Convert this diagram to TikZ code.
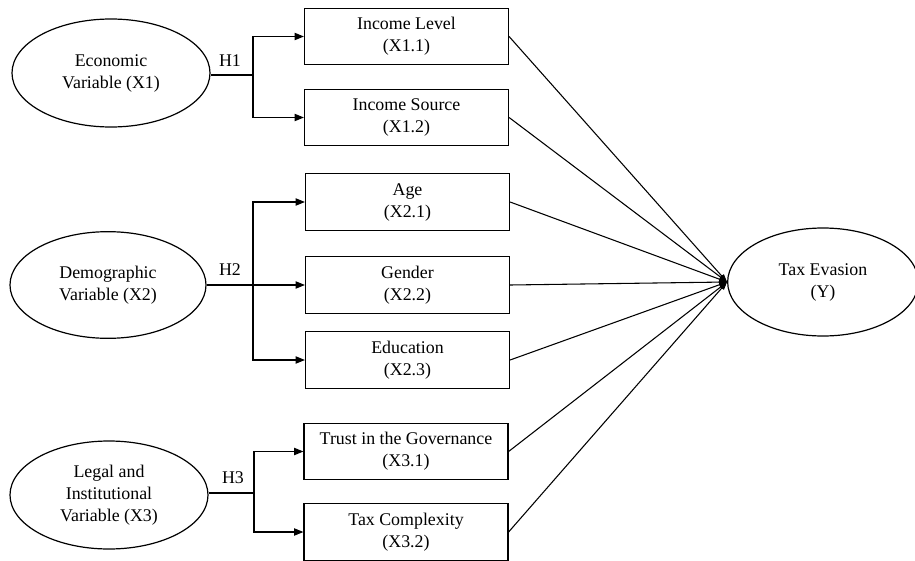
\documentclass[tikz,border=0pt]{standalone}
\usepackage{fontspec}
\setmainfont{Liberation Serif}
\usetikzlibrary{shapes.geometric,arrows.meta}
\begin{document}
\begin{tikzpicture}[x=0.75pt,y=-0.75pt,
  every node/.style={font=\fontsize{13.4}{16.5}\selectfont, align=center},
  varbox/.style={draw, line width=0.9pt, minimum width=153pt, minimum height=42.5pt, inner sep=0pt},
  latent/.style={draw, ellipse, line width=0.9pt, inner sep=0pt},
  link/.style={line width=0.8pt},
  arr/.style={line width=0.8pt, -{Triangle[length=7pt,width=5.5pt]}},
  conv/.style={line width=0.8pt, -{Triangle[length=6pt,width=4pt]}},
  hlab/.style={inner sep=1pt}
]
\useasboundingbox (0,0) rectangle (915,561);

% latent variables
\node[latent, minimum width=148.5pt, minimum height=81pt] (e1) at (111,73) {Economic\\Variable (X1)};
\node[latent, minimum width=147pt, minimum height=80pt] (e2) at (108,285) {Demographic\\Variable (X2)};
\node[latent, minimum width=148.5pt, minimum height=81pt] (e3) at (109,495) {Legal and\\Institutional\\Variable (X3)};
\node[latent, minimum width=143pt, minimum height=81pt] (y) at (823,282) {Tax Evasion\\(Y)};

% indicator boxes
\node[varbox] (il) at (406.5,36.5) {Income Level\\(X1.1)};
\node[varbox] (is) at (406.5,117.5) {Income Source\\(X1.2)};
\node[varbox] (ag) at (407.5,202) {Age\\(X2.1)};
\node[varbox] (ge) at (407.5,285) {Gender\\(X2.2)};
\node[varbox] (ed) at (407.5,360) {Education\\(X2.3)};
\node[varbox] (tr) at (406,451.5) {Trust in the Governance\\(X3.1)};
\node[varbox] (tc) at (406,532) {Tax Complexity\\(X3.2)};

% hypothesis labels
\node[hlab] (h1) at (230,61) {H1};
\node[hlab] (h2) at (230,270) {H2};
\node[hlab] (h3) at (233,478) {H3};

% junctions
\coordinate (j1) at (253,75);
\coordinate (j2) at (253,285);
\coordinate (j3) at (254,493);

\draw[link] (e1.east |- j1) -- (j1);
\draw[arr] (j1) |- (il);
\draw[arr] (j1) |- (is);

\draw[link] (e2.east) -- (j2);
\draw[arr] (j2) |- (ag);
\draw[arr] (j2) -- (ge);
\draw[arr] (j2) |- (ed);

\draw[link] (e3.east |- j3) -- (j3);
\draw[arr] (j3) |- (tr);
\draw[arr] (j3) |- (tc);

% converging paths to Y
\foreach \b in {il,is,ag,ge,ed,tr,tc}
  \draw[conv] (\b.east) -- (y.west);
\end{tikzpicture}
\end{document}
